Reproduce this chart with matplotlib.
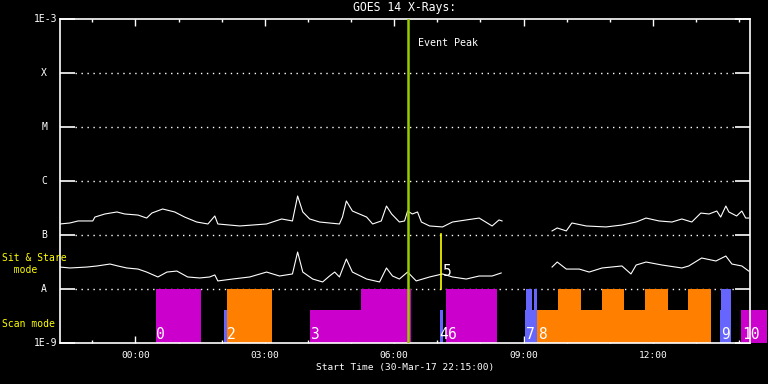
import numpy as np
import matplotlib.pyplot as plt
from matplotlib.transforms import blended_transform_factory

# GOES 14 X-ray flux, hours relative to 31-Mar 00:00 (start 30-Mar-17 22:15)
long_t = [-1.75, -1.52, -1.33, -0.99, -0.94, -0.71, -0.43, -0.25, 0.06, 0.26, 0.38,
          0.63, 0.91, 1.14, 1.42, 1.68, 1.84, 1.91, 2.42, 3.04, 3.39, 3.64, 3.76,
          3.88, 4.04, 4.27, 4.73, 4.80, 4.89, 5.03, 5.36, 5.50, 5.70, 5.82, 5.94,
          6.12, 6.24, 6.31, 6.42, 6.54, 6.63, 6.82, 7.12, 7.35, 7.67, 7.97, 8.27,
          8.43, 8.50, 9.00, 9.66, 9.78, 9.99, 10.12, 10.45, 10.91, 11.28, 11.61,
          11.84, 12.14, 12.44, 12.67, 12.90, 13.11, 13.30, 13.48, 13.57, 13.69,
          13.76, 13.94, 14.06, 14.15, 14.22]
long_flux = [1.60e-7, 1.67e-7, 1.82e-7, 1.82e-7, 2.15e-7, 2.45e-7, 2.67e-7, 2.45e-7,
             2.34e-7, 2.06e-7, 2.55e-7, 3.03e-7, 2.67e-7, 2.15e-7, 1.74e-7, 1.60e-7,
             2.25e-7, 1.60e-7, 1.47e-7, 1.60e-7, 1.98e-7, 1.82e-7, 5.28e-7, 2.67e-7,
             1.98e-7, 1.74e-7, 1.60e-7, 2.15e-7, 4.27e-7, 2.78e-7, 2.15e-7, 1.60e-7,
             1.82e-7, 3.44e-7, 2.45e-7, 1.74e-7, 1.82e-7, 2.78e-7, 2.45e-7, 2.67e-7,
             1.74e-7, 1.47e-7, 1.41e-7, 1.74e-7, 1.90e-7, 2.06e-7, 1.47e-7, 1.90e-7,
             1.82e-7, np.nan, 1.19e-7, 1.35e-7, 1.19e-7, 1.67e-7, 1.47e-7, 1.41e-7,
             1.53e-7, 1.74e-7, 2.06e-7, 1.82e-7, 1.74e-7, 1.98e-7, 1.74e-7, 2.55e-7,
             2.45e-7, 2.78e-7, 2.15e-7, 3.44e-7, 2.67e-7, 2.25e-7, 2.78e-7, 2.06e-7,
             2.06e-7]

short_t = [-1.75, -1.52, -1.13, -0.89, -0.59, -0.41, -0.20, 0.06, 0.26, 0.52, 0.73,
           0.96, 1.21, 1.49, 1.72, 1.84, 1.91, 2.25, 2.65, 3.04, 3.34, 3.64, 3.76,
           3.88, 4.11, 4.34, 4.50, 4.62, 4.73, 4.89, 5.03, 5.36, 5.66, 5.82, 5.96,
           6.12, 6.31, 6.51, 6.82, 7.12, 7.35, 7.67, 7.97, 8.27, 8.48, 9.00, 9.66,
           9.78, 9.99, 10.29, 10.52, 10.82, 11.28, 11.49, 11.61, 11.84, 12.21, 12.67,
           12.83, 13.13, 13.46, 13.69, 13.83, 14.06, 14.22]
short_flux = [2.55e-8, 2.45e-8, 2.55e-8, 2.67e-8, 2.90e-8, 2.67e-8, 2.45e-8, 2.34e-8,
              2.06e-8, 1.67e-8, 2.06e-8, 2.15e-8, 1.67e-8, 1.60e-8, 1.67e-8, 1.82e-8,
              1.41e-8, 1.53e-8, 1.67e-8, 2.06e-8, 1.74e-8, 1.90e-8, 4.84e-8, 2.06e-8,
              1.53e-8, 1.35e-8, 1.74e-8, 2.06e-8, 1.67e-8, 3.59e-8, 2.06e-8, 1.53e-8,
              1.35e-8, 2.45e-8, 1.74e-8, 1.53e-8, 2.06e-8, 1.41e-8, 1.67e-8, 1.90e-8,
              1.67e-8, 1.53e-8, 1.74e-8, 1.74e-8, 1.98e-8, np.nan, 2.55e-8, 3.16e-8,
              2.34e-8, 2.34e-8, 2.06e-8, 2.45e-8, 2.67e-8, 1.90e-8, 2.78e-8, 3.16e-8,
              2.78e-8, 2.45e-8, 2.67e-8, 3.75e-8, 3.30e-8, 4.08e-8, 2.90e-8, 2.67e-8,
              2.15e-8]

# observation blocks: start, end (hours), top flux, colour
obs_start = [0.47, 2.05, 2.12, 4.04, 5.22, 7.05, 7.21, 9.04, 9.06, 9.25, 9.31,
             9.80, 10.82, 11.81, 12.81, 13.55, 13.57, 14.04]
obs_end = [1.51, 2.12, 3.16, 5.22, 6.40, 7.12, 8.39, 9.31, 9.20, 9.31, 13.34,
           10.33, 11.33, 12.35, 13.34, 13.81, 13.81, 14.64]
obs_top = [1e-8, 4.1e-9, 1e-8, 4.1e-9, 1e-8, 4.1e-9, 1e-8, 4.1e-9, 1e-8, 1e-8, 4.1e-9,
           1e-8, 1e-8, 1e-8, 1e-8, 4.1e-9, 1e-8, 4.1e-9]
obs_kind = ["m", "b", "o", "m", "m", "b", "m", "b", "b", "b", "o",
            "o", "o", "o", "o", "b", "b", "m"]
kind_colors = {"m": "#CC00CC", "o": "#FF8000", "b": "#6666FF"}

obs_labels = ["0", "2", "3", "4", "6", "7", "8", "9", "10"]
obs_label_t = [0.47, 2.12, 4.04, 7.04, 7.25, 9.06, 9.33, 13.58, 14.06]

peak_t = 6.31
sit_t = 7.09

level_vals = [1e-3, 1e-4, 1e-5, 1e-6, 1e-7, 1e-8, 1e-9]
level_names = ["1E-3", "X", "M", "C", "B", "A", "1E-9"]
hour_ticks = [0, 3, 6, 9, 12]
hour_labels = ["00:00", "03:00", "06:00", "09:00", "12:00"]

plt.rcParams['font.family'] = ['DejaVu Sans Mono']

fig = plt.figure(figsize=(7.68, 3.84), dpi=100, facecolor="black")
ax = fig.add_axes([60 / 768, 41 / 384, 690 / 768, 324 / 384], facecolor="black")
ax.set_yscale("log")
ax.set_xlim(-1.75, 14.25)
ax.set_ylim(1e-9, 1e-3)

for s in ax.spines.values():
    s.set_color("white")
    s.set_linewidth(1.2)

# dotted level lines
for v in level_vals[1:-1]:
    ax.axhline(v, color="white", lw=1.0, ls=(0, (1, 3.3)), xmin=0.022, xmax=0.978, zorder=1)

# observation bars
for s, e, top, k in zip(obs_start, obs_end, obs_top, obs_kind):
    ax.fill_between([s, e], 1e-9, top, color=kind_colors[k], lw=0, zorder=2,
                    clip_on=(e <= 14.25))

for lab, t in zip(obs_labels, obs_label_t):
    ax.text(t, 1.17e-9, lab, color="white", fontsize=10.5, ha="left", va="baseline",
            zorder=4, clip_on=False)

ax.plot(long_t, long_flux, color="white", lw=0.8, zorder=3)
ax.plot(short_t, short_flux, color="white", lw=0.8, zorder=3)

ax.plot([sit_t, sit_t], [1e-8, 1.05e-7], color="#FFFF00", lw=1.2, zorder=3)
ax.text(sit_t + 0.05, 1.72e-8, "5", color="white", fontsize=10.5, ha="left",
        va="baseline", zorder=4)

ax.axvline(peak_t, color="#99CC00", lw=1.8, zorder=4)
ax.text(peak_t + 0.23, 3.6e-4, "Event Peak", color="white", fontsize=7.2,
        ha="left", va="center")

# axes ticks
ax.set_yticks(level_vals)
ax.set_yticklabels([])
ax.yaxis.set_minor_locator(plt.NullLocator())
ax.tick_params(axis="y", which="major", direction="in", length=10.8, width=1.2,
               color="white", left=True, right=True)
ax.set_xticks(hour_ticks)
ax.set_xticklabels(hour_labels)
ax.set_xticks(range(-1, 15), minor=True)
ax.tick_params(axis="x", which="major", direction="in", length=5, width=1,
               color="white", top=True, bottom=True, labelcolor="white",
               labelsize=6.8, pad=6)
ax.tick_params(axis="x", which="minor", direction="in", length=2.5, width=1,
               color="white", top=True, bottom=True)

tr = blended_transform_factory(ax.transAxes, ax.transData)
for v, name in zip(level_vals, level_names):
    if name.startswith("1E"):
        ax.text(-0.004, v, name, transform=tr, color="white", fontsize=7,
                ha="right", va="center")
    else:
        ax.text(-0.023, v, name, transform=tr, color="white", fontsize=7,
                ha="center", va="center")

ax.text(0.5, 1.034, "GOES 14 X-Rays:", transform=ax.transAxes, color="white",
        fontsize=8.3, ha="center", va="center")
ax.text(0.5, -0.077, "Start Time (30-Mar-17 22:15:00)", transform=ax.transAxes,
        color="white", fontsize=6.8, ha="center", va="center")

fig.text(2 / 768, 1 - 253 / 384, "Sit & Stare\n  mode", color="#FFFF00", fontsize=7,
         ha="left", va="top", linespacing=1.25)
fig.text(2 / 768, 1 - 324 / 384, "Scan mode", color="#FFFF00", fontsize=7,
         ha="left", va="center")

fig.savefig("out.png", dpi=100, facecolor="black")
